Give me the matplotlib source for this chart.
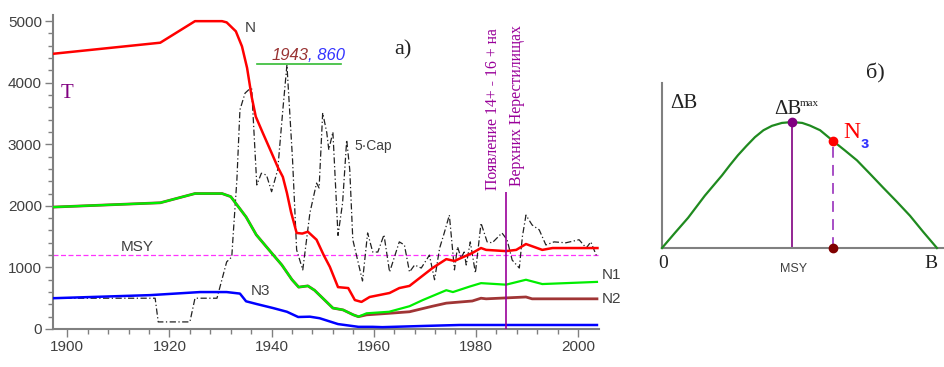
import numpy as np
import matplotlib
matplotlib.use("Agg")
import matplotlib.pyplot as plt

# ---- left panel data ----
years_n = [1897.2, 1918.2, 1925, 1930.3, 1931.2, 1933, 1934.2, 1935.2, 1936.1, 1936.9,
           1938.3, 1940, 1941.2, 1942.2, 1943, 1943.8, 1944.9, 1946, 1947.1, 1948.8,
           1950.2, 1951.4, 1953, 1955, 1956.3, 1957.6, 1959.2, 1963.1, 1965, 1967,
           1971.5, 1974.2, 1975.8, 1979.3, 1981, 1982, 1985.9, 1987.9, 1989.8, 1993,
           1995, 2003.8]
n_total = [4470, 4650, 5000, 5000, 4980, 4835, 4590, 4240, 3770, 3450,
           3180, 2860, 2630, 2470, 2210, 1900, 1560, 1550, 1580, 1450,
           1200, 1010, 680, 665, 470, 440, 520, 585, 665, 700,
           990, 1135, 1105, 1235, 1315, 1285, 1265, 1285, 1380, 1285,
           1315, 1315]

years_n1 = [1897.2, 1918.2, 1925, 1930.3, 1932, 1933.5, 1935, 1937, 1940, 1942,
            1944, 1945.3, 1947.1, 1948.4, 1952, 1954, 1956, 1957, 1958.6, 1963,
            1967, 1969.6, 1974.2, 1975.5, 1978.8, 1981, 1985.9, 1989.8, 1993, 2003.7]
n1 = [1980, 2050, 2200, 2200, 2150, 1985, 1820, 1530, 1235, 1040,
      800, 680, 700, 630, 340, 310, 230, 200, 255, 280,
      370, 470, 630, 600, 690, 745, 720, 800, 730, 765]

years_n2 = [1897.2, 1918.2, 1925, 1930.3, 1932, 1933.5, 1935, 1937, 1940, 1942,
            1944, 1945.3, 1947.1, 1948.4, 1952, 1954, 1956, 1957, 1958.6, 1963,
            1967, 1971.5, 1974.2, 1979.3, 1981, 1982, 1989.8, 1991, 2003.7]
n2 = [1980, 2050, 2200, 2200, 2150, 1985, 1820, 1530, 1235, 1040,
      800, 680, 700, 630, 340, 310, 230, 200, 230, 255,
      280, 370, 420, 455, 500, 490, 520, 490, 490]

years_n3 = [1897.2, 1916.2, 1926, 1931.2, 1933.8, 1935, 1937.1, 1940.3, 1943, 1945.2,
            1947.5, 1949.4, 1953, 1957, 1959.8, 1961.7, 1970, 1976.8, 2003.7]
n3 = [500, 550, 600, 600, 575, 450, 405, 340, 280, 195,
      200, 175, 80, 35, 35, 30, 50, 65, 65]

years_cap = [1897.2, 1917.2, 1917.8, 1924, 1925, 1929.3, 1931.2, 1932.2, 1932.5, 1933.2,
             1933.8, 1934.8, 1935.7, 1936.1, 1937.1, 1938, 1939, 1940, 1941.2, 1942.2,
             1943, 1944.1, 1944.9, 1946.1, 1947.5, 1948.8, 1949.3, 1950, 1950.8, 1951.2,
             1952, 1953, 1953.9, 1954.7, 1955.3, 1955.9, 1957.8, 1958.8, 1959.8, 1960.8,
             1962, 1963.1, 1965, 1966, 1967, 1968, 1969.3, 1970.9, 1971.9, 1972.9,
             1973.8, 1974.8, 1975.8, 1976.4, 1977.1, 1977.7, 1978.1, 1978.9, 1979.9, 1981,
             1982.2, 1983.2, 1985.1, 1986.1, 1987.1, 1988.5, 1989.1, 1989.8, 1991, 1992.4,
             1993.7, 1995.3, 1997.6, 2000.2, 2001.6, 2002.5, 2003.7]
cap5 = [500, 500, 115, 115, 500, 500, 1090, 1170, 1560, 2420,
        3560, 3830, 3900, 3900, 2340, 2530, 2500, 2230, 2590, 3560,
        4290, 2750, 1285, 960, 1885, 2370, 2290, 3510, 3190, 2910,
        3200, 1520, 2050, 3070, 2590, 1450, 780, 1560, 1250, 1250,
        1530, 925, 1415, 1365, 925, 1040, 990, 1200, 800, 1315,
        1560, 1850, 960, 1335, 1155, 1250, 1040, 1415, 910, 1720,
        1415, 1400, 1560, 1450, 1120, 990, 1500, 1850, 1690, 1610,
        1365, 1415, 1400, 1450, 1315, 1415, 1170]

msy_level = 1200
event_year = 1985.9
event_top = 2230
peak_cap = 4300

# ---- right panel data (schematic surplus curve) ----
b_vals = [0, 4.7, 9.5, 15.6, 21.8, 24.7, 27.6, 30.7, 33.8, 36.9, 40, 43.6, 47.3,
          51, 53.8, 57.5, 62.2, 66.5, 70.9, 75.6, 80.4, 85.3, 90.2, 95, 100]
db_vals = [0, 12, 24, 41.6, 57.6, 65.8, 73.6, 81, 88, 93.5, 97, 99.3, 100,
           99.3, 97.2, 93.5, 85, 77.5, 69.6, 59, 48, 37, 25.6, 12.8, 0]
b_msy, db_max = 47.3, 100
b_n3, db_n3 = 62.2, 85

W, H = 944, 367
fig = plt.figure(figsize=(W / 100, H / 100), dpi=100)


def fx(px):
    return px / W


def fy(py):
    return 1 - py / H


sans = "Liberation Sans"
serif = "Liberation Serif"
gray = "#404040"
spine_c = "#808080"

# ---------------- left panel ----------------
ax = fig.add_axes([fx(53), fy(329), fx(599) - fx(53), fy(15) - fy(329)])
ax.set_xlim(1897.2, 2004.1)
ax.set_ylim(0, 5100)
for s in ("top", "right"):
    ax.spines[s].set_visible(False)
for s in ("left", "bottom"):
    ax.spines[s].set_color(spine_c)
    ax.spines[s].set_linewidth(1.5)
ax.set_xticks([1900, 1920, 1940, 1960, 1980, 2000])
ax.set_xticks(np.arange(1900, 2004, 4), minor=True)
ax.set_yticks([0, 1000, 2000, 3000, 4000, 5000])
ax.set_yticks(np.arange(0, 5100, 200), minor=True)
ax.tick_params(which="major", length=6, width=1, color=spine_c, labelsize=11,
               labelcolor=gray, pad=2)
ax.tick_params(which="minor", length=3.5, width=1, color=spine_c)
for lab in ax.get_xticklabels() + ax.get_yticklabels():
    lab.set_family(sans)

ax.axhline(msy_level, color="#ff33ff", lw=0.9, ls=(0, (4, 2)), zorder=1)
ax.plot(years_cap, cap5, color="#222222", lw=0.9, ls=(0, (5, 2, 1, 2)), zorder=2)
ax.plot(years_n2, n2, color="#a03535", lw=2.0, zorder=3)
ax.plot(years_n1, n1, color="#00ee00", lw=1.6, zorder=4)
ax.plot(years_n3, n3, color="#0000ff", lw=1.8, zorder=4)
ax.plot(years_n, n_total, color="#ff0000", lw=1.8, zorder=5)
ax.vlines(event_year, 0, event_top, color="#990099", lw=1.2, zorder=6)
ax.plot([1937.2, 1953.6], [peak_cap, peak_cap], color="#33bb33", lw=1.2, zorder=6)

lab_kw = dict(family=sans, fontsize=11, color=gray, va="center")
ax.text(1935.9, 4890, "N", ha="center", **lab_kw)
ax.text(1956.3, 2970, "5·Cap", ha="left", fontsize=10, family=sans, color=gray, va="center")
ax.text(2004.7, 880, "N1", ha="left", clip_on=False, **lab_kw)
ax.text(2004.7, 490, "N2", ha="left", clip_on=False, **lab_kw)
ax.text(1937.9, 620, "N3", ha="center", **lab_kw)
ax.text(1913.7, 1330, "MSY", ha="center", **lab_kw)
ax.text(1900, 3830, "T", ha="center", va="center", family=serif, fontsize=15,
        color="#800080")

fig.text(fx(272), fy(55), "1943", ha="left", va="center", family=sans,
         style="italic", fontsize=12, color="#993333")
fig.text(fx(308), fy(55), ", 860", ha="left", va="center", family=sans,
         style="italic", fontsize=12, color="#3333ff")
fig.text(fx(403), fy(50), "а)", ha="center", va="center", family=serif,
         fontsize=16, color="#222222")
fig.text(fx(493), fy(190), "Появление 14+ - 16 + на", rotation=90, ha="center",
         va="bottom", family=serif, fontsize=11.3, color="#990099")
fig.text(fx(517), fy(186), "Верхних Нерестилищах", rotation=90, ha="center",
         va="bottom", family=serif, fontsize=11.3, color="#990099")

# ---------------- right panel ----------------
bx = fig.add_axes([fx(662), fy(248), fx(943) - fx(662), fy(83) - fy(248)])
bx.set_xlim(0, 102.2)
bx.set_ylim(0, 131)
for s in ("top", "right"):
    bx.spines[s].set_visible(False)
for s in ("left", "bottom"):
    bx.spines[s].set_color(spine_c)
    bx.spines[s].set_linewidth(1.5)
bx.set_xticks([])
bx.set_yticks([])
bx.plot(b_vals, db_vals, color="#1f8a1f", lw=1.6, zorder=3, clip_on=False)
bx.vlines(b_msy, 0, db_max, color="#800080", lw=1.2, zorder=2)
bx.plot([b_n3, b_n3], [0, db_n3], color="#a040c0", lw=1.3, ls=(0, (6, 4)), zorder=2)
bx.plot([b_msy], [db_max], "o", color="#800080", ms=6, zorder=5, clip_on=False)
bx.plot([b_n3], [db_n3], "o", color="#ff0000", ms=6, zorder=5)
bx.plot([b_n3], [0], "o", color="#800000", ms=6, zorder=5, clip_on=False)

fig.text(fx(670), fy(104), "ΔB", ha="left", va="center", family=serif, fontsize=15,
         color="#222222")
fig.text(fx(774), fy(109), "ΔB", ha="left", va="center", family=serif, fontsize=15,
         color="#222222")
fig.text(fx(800), fy(104), "max", ha="left", va="center", family=serif, fontsize=8,
         color="#222222")
fig.text(fx(843), fy(133), "N", ha="left", va="center", family=serif, fontsize=17,
         color="#ff0000")
fig.text(fx(861), fy(144), "з", ha="left", va="center", family=sans, fontsize=12,
         fontweight="bold", color="#3333ff")
fig.text(fx(663), fy(263), "0", ha="center", va="center", family=serif, fontsize=14,
         color="#222222")
fig.text(fx(931), fy(263), "B", ha="center", va="center", family=serif, fontsize=14,
         color="#222222")
fig.text(fx(794), fy(269), "MSY", ha="center", va="center", family=sans, fontsize=9,
         color=gray)
fig.text(fx(875), fy(73), "б)", ha="center", va="center", family=serif, fontsize=16,
         color="#222222")

fig.savefig("out.png", dpi=100)
